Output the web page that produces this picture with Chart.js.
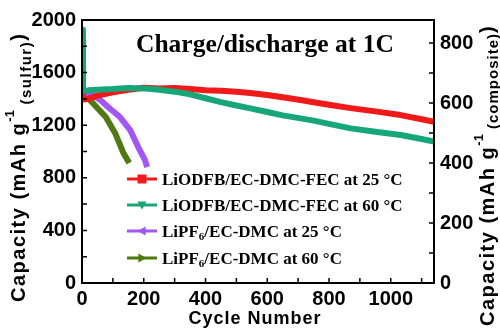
<!DOCTYPE html>
<html>
<head>
<meta charset="utf-8">
<script src="https://cdn.jsdelivr.net/npm/chart.js@4/dist/chart.umd.min.js"></script>
<style>
    html, body { margin: 0; padding: 0; background: #fff; }
    #wrap { width: 500px; height: 328px; }
</style>
</head>
<body>
<div id="wrap"><canvas id="cycleChart" width="500" height="328"></canvas></div>
<script>
/*
==================================
    Data
==================================
*/
var seriesNames = [
    'LiODFB/EC-DMC-FEC at 25 \u00B0C',
    'LiODFB/EC-DMC-FEC at 60 \u00B0C',
    'LiPF6/EC-DMC at 25 \u00B0C',
    'LiPF6/EC-DMC at 60 \u00B0C'
];
var redCycles = [1, 3, 20, 50, 100, 150, 200, 250, 300, 350, 400, 450, 500, 545, 600, 650, 708, 750, 800, 870, 950, 1032, 1100, 1140];
var redCap = [1850, 1395, 1400, 1425, 1450, 1470, 1485, 1480, 1482, 1475, 1465, 1462, 1455, 1445, 1430, 1412, 1392, 1375, 1355, 1330, 1305, 1277, 1245, 1225];
var greenCycles = [1, 3, 20, 50, 100, 150, 200, 250, 300, 350, 400, 450, 500, 545, 600, 650, 708, 750, 800, 870, 950, 1032, 1100, 1140];
var greenCap = [1925, 1460, 1465, 1470, 1475, 1483, 1480, 1470, 1455, 1435, 1405, 1375, 1350, 1328, 1300, 1275, 1252, 1235, 1210, 1176, 1150, 1125, 1095, 1075];
var purpleCycles = [1, 3, 26, 60, 91, 123, 156, 182, 204, 211];
var purpleCap = [1760, 1450, 1440, 1390, 1325, 1262, 1163, 1034, 935, 882];
var oliveCycles = [1, 3, 30, 77, 107, 134, 153];
var oliveCap = [1810, 1460, 1380, 1262, 1141, 989, 912];

var xTicks = [0, 200, 400, 600, 800, 1000];
var yTicks = [0, 400, 800, 1200, 1600, 2000];
var y2Ticks = [0, 200, 400, 600, 800];

var colors = ['#f01a1a', '#17a677', '#a357f5', '#4f7a12'];
var markers = ['rect', 'triangleDown', 'triangleLeft', 'triangleRight'];

function pts(xs, ys){
    return xs.map(function(x, i){ return {x: x, y: ys[i]}; });
}

/*
==================================
    Text helpers
==================================
*/
function richText(ctx, x, y, angle, parts){
    ctx.save();
    ctx.translate(x, y);
    ctx.rotate(angle);
    ctx.textBaseline = 'alphabetic';
    ctx.textAlign = 'left';
    var cx = 0;
    parts.forEach(function(p){
        ctx.font = p.font;
        ctx.letterSpacing = p.ls || '0px';
        ctx.fillText(p.t, cx, p.dy || 0);
        cx += ctx.measureText(p.t).width;
    });
    ctx.restore();
}

function drawMarker(ctx, kind, x, y, r){
    ctx.beginPath();
    if (kind === 'rect') {
        ctx.rect(x - r, y - r, 2 * r, 2 * r);
    } else if (kind === 'triangleDown') {
        ctx.moveTo(x - r, y - r * 0.8); ctx.lineTo(x + r, y - r * 0.8); ctx.lineTo(x, y + r);
    } else if (kind === 'triangleLeft') {
        ctx.moveTo(x + r * 0.8, y - r); ctx.lineTo(x + r * 0.8, y + r); ctx.lineTo(x - r, y);
    } else {
        ctx.moveTo(x - r * 0.8, y - r); ctx.lineTo(x - r * 0.8, y + r); ctx.lineTo(x + r, y);
    }
    ctx.closePath();
    ctx.fill();
}

/*
==================================
    Frame, ticks, titles, legend
==================================
*/
var decorPlugin = {
    id: 'decor',
    afterDraw: function(chart){
        var ctx = chart.ctx;
        var a = chart.chartArea;
        var sx = chart.scales.x, sy = chart.scales.y, sy2 = chart.scales.y2;
        ctx.save();
        ctx.strokeStyle = '#000';
        ctx.fillStyle = '#000';

        // box
        ctx.lineWidth = 2;
        ctx.strokeRect(a.left, a.top, a.right - a.left, a.bottom - a.top);

        // inward ticks
        ctx.lineWidth = 1.5;
        ctx.beginPath();
        for (var v = 100; v < 1140; v += 100) {
            var px = sx.getPixelForValue(v);
            ctx.moveTo(px, a.bottom); ctx.lineTo(px, a.bottom - 5);
        }
        for (var w = 200; w < 2000; w += 200) {
            var py = sy.getPixelForValue(w);
            ctx.moveTo(a.left, py); ctx.lineTo(a.left + 5, py);
        }
        for (var u = 100; u < 877; u += 100) {
            var py2 = sy2.getPixelForValue(u);
            ctx.moveTo(a.right, py2); ctx.lineTo(a.right - 5, py2);
        }
        ctx.stroke();

        // title inside plot
        ctx.font = 'bold 25.5px "Liberation Serif"';
        ctx.textAlign = 'left';
        ctx.fillText('Charge/discharge at 1C', 136, 52);

        // axis titles
        var big = 'bold 20px "Liberation Sans"';
        var sup = 'bold 13px "Liberation Sans"';
        var sub = 'bold 15px "Liberation Sans"';
        richText(ctx, 25, 302, -Math.PI / 2, [
            {t: 'Capacity (mAh g', font: big, ls: '1.5px'},
            {t: '-1', font: sup, dy: -11},
            {t: ' (sulfur)', font: sub, dy: 6, ls: '1.5px'},
            {t: ')', font: big}
        ]);
        richText(ctx, 494, 326, -Math.PI / 2, [
            {t: 'Capacity (mAh g', font: big, ls: '1.5px'},
            {t: '-1', font: sup, dy: -11},
            {t: ' (composite)', font: sub, dy: 4, ls: '1px'},
            {t: ')', font: big}
        ]);
        ctx.font = 'bold 18px "Liberation Sans"';
        ctx.letterSpacing = '1px';
        ctx.textAlign = 'center';
        ctx.fillText('Cycle Number', 255, 324);
        ctx.letterSpacing = '0px';

        // legend
        var rows = [179, 205, 231, 258];
        var txt = 'bold 17px "Liberation Serif"';
        var small = 'bold 11px "Liberation Serif"';
        rows.forEach(function(ry, i){
            ctx.strokeStyle = colors[i];
            ctx.fillStyle = colors[i];
            ctx.lineWidth = 3;
            ctx.beginPath();
            ctx.moveTo(127, ry); ctx.lineTo(157, ry);
            ctx.stroke();
            drawMarker(ctx, markers[i], 142, ry, 4.5);
            ctx.fillStyle = '#000';
            var name = seriesNames[i];
            var parts;
            if (name.indexOf('LiPF6') === 0) {
                parts = [
                    {t: 'LiPF', font: txt},
                    {t: '6', font: small, dy: 3},
                    {t: name.slice(5), font: txt}
                ];
            } else {
                parts = [{t: name, font: txt}];
            }
            richText(ctx, 162, ry + 6, 0, parts);
        });
        ctx.restore();
    }
};

/*
==================================
    Chart
==================================
*/
function keepTicks(list){
    return function(scale){
        scale.ticks = list.map(function(v){ return {value: v}; });
    };
}
function plain(value){ return String(value); }

var tickFont = {family: 'Liberation Sans', size: 20, weight: 'bold'};

var ctx = document.getElementById('cycleChart');
var cycleChart = new Chart(ctx, {
    type: 'line',
    data: {
        datasets: [
            {label: seriesNames[0], data: pts(redCycles, redCap), borderColor: colors[0], order: 2},
            {label: seriesNames[1], data: pts(greenCycles, greenCap), borderColor: colors[1], order: 1},
            {label: seriesNames[2], data: pts(purpleCycles, purpleCap), borderColor: colors[2], order: 3},
            {label: seriesNames[3], data: pts(oliveCycles, oliveCap), borderColor: colors[3], order: 4}
        ]
    },
    options: {
        responsive: false,
        animation: false,
        layout: {padding: {top: 20, left: 0, right: 0, bottom: 0}},
        elements: {
            line: {borderWidth: 6, tension: 0, borderCapStyle: 'butt', borderJoinStyle: 'round', fill: false},
            point: {radius: 0}
        },
        plugins: {legend: {display: false}, tooltip: {enabled: false}},
        scales: {
            x: {
                type: 'linear', min: 0, max: 1140,
                afterBuildTicks: keepTicks(xTicks),
                afterFit: function(s){ s.height = 45; },
                grid: {display: false, drawTicks: false},
                border: {display: false},
                ticks: {padding: 4, color: '#000', maxRotation: 0, font: tickFont, callback: plain}
            },
            y: {
                type: 'linear', position: 'left', min: 0, max: 2000,
                afterBuildTicks: keepTicks(yTicks),
                afterFit: function(s){ s.width = 82; },
                grid: {display: false, drawTicks: false},
                border: {display: false},
                ticks: {padding: 6, color: '#000', font: tickFont, callback: plain}
            },
            y2: {
                type: 'linear', position: 'right', min: 0, max: 877,
                afterBuildTicks: keepTicks(y2Ticks),
                afterFit: function(s){ s.width = 66; },
                grid: {display: false, drawTicks: false},
                border: {display: false},
                ticks: {padding: 6, color: '#000', font: tickFont, callback: plain}
            }
        }
    },
    plugins: [decorPlugin]
});
</script>
</body>
</html>
